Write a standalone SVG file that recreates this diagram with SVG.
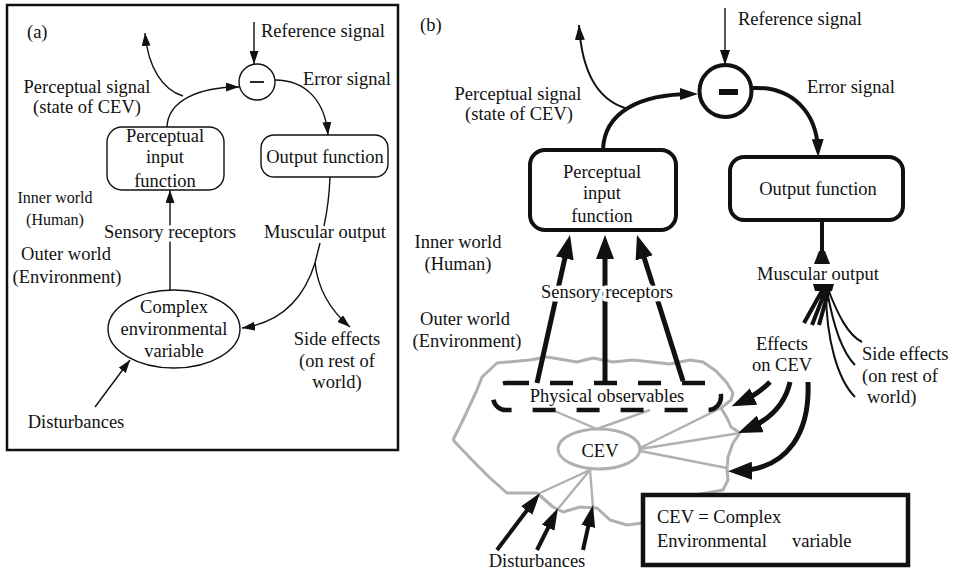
<svg xmlns="http://www.w3.org/2000/svg" width="959" height="571" viewBox="0 0 959 571">
<style>
text{font-family:"Liberation Serif","Times New Roman",serif;font-size:18.5px;fill:#111}
.m{text-anchor:middle}
.sm{font-size:16px}
.box{fill:#fff;stroke:#111}
.thin{fill:none;stroke:#111;stroke-width:1.4}
.mid{fill:none;stroke:#111;stroke-width:2}
.thk{fill:none;stroke:#111;stroke-width:4}
.vthk{fill:none;stroke:#111;stroke-width:5}
.gray{fill:none;stroke:#b0b0b0;stroke-width:3;stroke-linejoin:round}
.grayt{fill:none;stroke:#b0b0b0;stroke-width:2.4}
.halo{paint-order:stroke;stroke:#fff;stroke-width:7;stroke-linejoin:round}
</style>
<defs>
<marker id="ha" markerUnits="userSpaceOnUse" markerWidth="13" markerHeight="9" refX="13" refY="4.5" orient="auto"><path d="M0,0 L13,4.5 L0,9 Z" fill="#111"/></marker>
<marker id="hs" markerUnits="userSpaceOnUse" markerWidth="15" markerHeight="10" refX="15" refY="5" orient="auto"><path d="M0,0 L15,5 L0,10 Z" fill="#111"/></marker>
<marker id="hm" markerUnits="userSpaceOnUse" markerWidth="18" markerHeight="12" refX="12" refY="6" orient="auto"><path d="M0,0 L18,6 L0,12 Z" fill="#111"/></marker>
<marker id="hb" markerUnits="userSpaceOnUse" markerWidth="24" markerHeight="18" refX="16" refY="9" orient="auto"><path d="M0,0 L24,9 L0,18 Z" fill="#111"/></marker>
<marker id="hd" markerUnits="userSpaceOnUse" markerWidth="22" markerHeight="14" refX="14" refY="7" orient="auto"><path d="M0,0 L22,7 L0,14 Z" fill="#111"/></marker>
</defs>
<rect x="0" y="0" width="959" height="571" fill="#fff"/>

<!-- ===== Panel (a) ===== -->
<g id="a-frame"><rect x="7" y="5" width="391" height="445" fill="none" stroke="#111" stroke-width="2.5"/></g>
<g id="a-labels">
<text x="27" y="38">(a)</text>
<text x="261" y="37">Reference signal</text>
<text x="303" y="85">Error signal</text>
<text class="m" x="87" y="93">Perceptual signal</text>
<text class="m" x="87" y="113">(state of CEV)</text>
<text class="m sm" x="55" y="203">Inner world</text>
<text class="m sm" x="55" y="225">(Human)</text>
<text class="m" x="66" y="260">Outer world</text>
<text class="m" x="67" y="283">(Environment)</text>
<text class="m" x="325" y="238">Muscular output</text>
<text class="m" x="337" y="345">Side effects</text>
<text class="m" x="337" y="367">(on rest of</text>
<text class="m" x="337" y="388">world)</text>
<text class="m" x="76" y="428">Disturbances</text>
</g>
<g id="a-connectors">
<path class="thin" d="M254,22 L254,64" marker-end="url(#ha)"/>
<path class="thin" d="M167,127 C168,100 200,87 239,87" marker-end="url(#ha)"/>
<path class="thin" d="M183,96 C163,90 148,68 145,33" marker-end="url(#ha)"/>
<path class="thin" d="M275,80 C305,80 325,100 328,135" marker-end="url(#ha)"/>
<path class="thin" d="M170,290 L170,190" marker-end="url(#ha)"/>
<path class="thin" d="M330,177 Q329,203 324,226"/>
<path class="thin" d="M320,243 L315,263"/>
<path class="thin" d="M315,263 C305,295 285,322 242,328" marker-end="url(#ha)"/>
<path class="thin" d="M315,263 C318,290 330,310 350,327" marker-end="url(#ha)"/>
<path class="thin" d="M95,407 L130,360" marker-end="url(#ha)"/>
</g>
<g id="a-comparator">
<circle cx="257" cy="82" r="18" fill="#fff" stroke="#111" stroke-width="1.4"/>
<line x1="250" y1="82" x2="264" y2="82" stroke="#111" stroke-width="1.8"/>
</g>
<g id="a-pif">
<rect class="box" x="107" y="127" width="117" height="63" rx="15" stroke-width="1.4"/>
<text class="m" x="165" y="142">Perceptual</text>
<text class="m" x="165" y="163">input</text>
<text class="m" x="165" y="187">function</text>
</g>
<g id="a-output">
<rect class="box" x="261" y="135" width="127" height="42" rx="13" stroke-width="1.4"/>
<text class="m" x="325" y="163">Output function</text>
</g>
<g id="a-sensory"><text class="m halo" x="170" y="238">Sensory receptors</text></g>
<g id="a-cev">
<ellipse cx="174" cy="329" rx="66" ry="39" fill="#fff" stroke="#111" stroke-width="1.4"/>
<text class="m" x="174" y="313">Complex</text>
<text class="m" x="174" y="335">environmental</text>
<text class="m" x="174" y="357">variable</text>
</g>

<!-- ===== Panel (b) ===== -->
<g id="b-labels">
<text x="420" y="31">(b)</text>
<text x="738" y="25">Reference signal</text>
<text x="807" y="93">Error signal</text>
<text class="m" x="518" y="100">Perceptual signal</text>
<text class="m" x="519" y="120">(state of CEV)</text>
<text class="m" x="458" y="248">Inner world</text>
<text class="m" x="458" y="270">(Human)</text>
<text class="m" x="465" y="325">Outer world</text>
<text class="m" x="467" y="347">(Environment)</text>
<text class="m" x="818" y="280">Muscular output</text>
<text class="m" x="782" y="350">Effects</text>
<text class="m" x="782" y="371">on CEV</text>
<text x="862" y="360">Side effects</text>
<text x="862" y="382">(on rest of</text>
<text x="867" y="403">world)</text>
<text class="m" x="537" y="567">Disturbances</text>
</g>

<g id="b-environment">
<path class="gray" d="M453,440 L463,420 L477,390 L482,377 L497,363 L530,360 L547,357 L577,362 L593,358 L613,362 L633,360 L670,364 L690,360 L703,362 L716,371 L727,383 L733,393 L731,400 L721,408 L727,418 L731,427 L740,433 L733,443 L728,457 L727,470 L728,480 L723,490 L690,496 M643,523 L627,525 L610,520 L597,508 L580,507 L563,512 L553,507 L537,493 L507,493 L490,478 L475,463 L453,440"/>
<path class="grayt" d="M550,409 L597,429 L650,410 M640,448 L721,408 M640,449 L740,433 M640,451 L727,468 M590,470 L540,493 M590,470 L557,510 M590,470 L593,507"/>
</g>
<g id="b-cev">
<ellipse cx="599" cy="449" rx="41" ry="20" fill="#fff" stroke="#b0b0b0" stroke-width="3"/>
<text class="m" x="600" y="457">CEV</text>
</g>
<g id="b-observables">
<rect x="493" y="383" width="228" height="27" rx="13" fill="none" stroke="#111" stroke-width="4.5" stroke-dasharray="23 21"/>
<text class="m" x="607" y="402">Physical observables</text>
</g>

<g id="b-connectors">
<path class="thin" d="M725,8 L725,65" marker-end="url(#hs)"/>
<path class="mid" d="M625,108 C600,100 582,75 579,25" marker-end="url(#hs)"/>
<path class="thk" d="M603,150 C604,112 640,94 692,94" marker-end="url(#hm)"/>
<path class="thk" d="M752,88 C792,86 817,112 818,151" marker-end="url(#hm)"/>
<path class="vthk" d="M537,383 L568.3,242.8" marker-end="url(#hb)"/>
<path class="vthk" d="M605,383 L605,243" marker-end="url(#hb)"/>
<path class="vthk" d="M683,381 L639.4,242.6" marker-end="url(#hb)"/>
<path class="thk" d="M822,220 L822,256"/>
<path d="M819,251 L825,251 L830,264 L814,264 Z" fill="#111"/>
<path d="M813,284 L834,284 L832,291 L815,291 Z" fill="#111"/>
<path class="thk" d="M823,289 L804,323 M826,289 L812,325 M829,289 L819,325"/>
<path class="mid" d="M828,289 C838,315 848,335 862,342 M827,290 C833,325 842,352 855,365 M826,290 C826,340 838,380 855,397"/>
<path class="vthk" d="M770,382 Q757,395 739,403" marker-end="url(#hb)"/>
<path class="vthk" d="M790,382 C785,405 770,420 745.5,430" marker-end="url(#hb)"/>
<path class="vthk" d="M808,382 C810,430 790,470 736,471" marker-end="url(#hb)"/>
<path class="thk" d="M497,550 L535.2,499.4" marker-end="url(#hd)"/>
<path class="thk" d="M537,550 L554.4,515.2" marker-end="url(#hd)"/>
<path class="thk" d="M583,550 L591.3,512.8" marker-end="url(#hd)"/>
</g>

<g id="b-comparator">
<circle cx="725.5" cy="91" r="26" fill="#fff" stroke="#111" stroke-width="4"/>
<line x1="719" y1="92" x2="738" y2="92" stroke="#111" stroke-width="6"/>
</g>
<g id="b-pif">
<rect class="box" x="530" y="150" width="146" height="80" rx="15" stroke-width="4"/>
<text class="m" x="602" y="178">Perceptual</text>
<text class="m" x="602" y="199">input</text>
<text class="m" x="602" y="222">function</text>
</g>
<g id="b-output">
<rect class="box" x="730" y="157" width="173" height="63" rx="14" stroke-width="4"/>
<text class="m" x="818" y="195">Output function</text>
</g>
<g id="b-sensory"><text class="m halo" x="607" y="298">Sensory receptors</text></g>
<g id="b-legend">
<rect class="box" x="643" y="495" width="265" height="70" stroke-width="4.5"/>
<text x="657" y="523">CEV = Complex</text>
<text x="657" y="547">Environmental <tspan x="792">variable</tspan></text>
</g>
</svg>
